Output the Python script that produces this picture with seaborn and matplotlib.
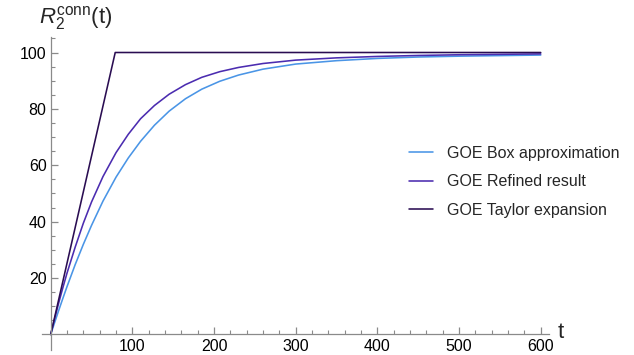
import matplotlib
matplotlib.use("Agg")
import matplotlib.pyplot as plt
from matplotlib.ticker import FixedLocator
import seaborn as sns
import pandas as pd

sns.set_theme(style="white")
plt.rcParams["font.family"] = ["Liberation Sans", "DejaVu Sans"]
plt.rcParams["mathtext.fontset"] = "custom"
plt.rcParams["mathtext.rm"] = "Liberation Sans"
plt.rcParams["mathtext.it"] = "Liberation Sans:italic"

# time grid shared by the two smooth curves
t_grid = [0, 5, 10, 15, 20, 30, 40, 50, 64, 80, 95, 110, 127, 145, 165, 185,
          207, 230, 260, 300, 350, 400, 450, 500, 550, 600]

# GOE Box approximation
box_v = [0, 4.4, 8.7, 12.9, 17, 24.8, 32, 38.7, 47.3, 55.8, 62.6, 68.5, 74.2, 79.2,
         83.6, 87, 89.8, 92, 94.1, 95.9, 97.1, 97.9, 98.4, 98.7, 98.9, 99.1]

# GOE Refined result
ref_v = [0, 5.8, 11.4, 16.7, 21.8, 31, 39.5, 47, 56, 64.5, 71, 76.5, 81.2, 85.2,
         88.6, 91.2, 93.2, 94.7, 96.1, 97.3, 98.1, 98.6, 98.95, 99.2, 99.35, 99.5]

# GOE Taylor expansion
tay_t = [0, 79, 600]
tay_v = [0, 100, 100]

names = ["GOE Box approximation", "GOE Refined result", "GOE Taylor expansion"]
colors = ["#4A95E6", "#4B2CB0", "#2A0D52"]
series = [(t_grid, box_v), (t_grid, ref_v), (tay_t, tay_v)]

fig = plt.figure(figsize=(6.34, 3.55), dpi=100)
ax = fig.add_axes([0.0658, 0.0141, 0.800, 0.8817])

for name, color, (t, v) in zip(names, colors, series):
    df = pd.DataFrame({"t": t, "R": v})
    sns.lineplot(data=df, x="t", y="R", ax=ax, color=color, linewidth=1.15,
                 label=name, sort=False, estimator=None)

ax.set_xlim(-11, 610)
ax.set_ylim(-5.5, 105.5)

# axes crossing at the origin
for side in ("top", "right"):
    ax.spines[side].set_visible(False)
for side in ("left", "bottom"):
    ax.spines[side].set_position(("data", 0))
    ax.spines[side].set_color("#8a8a8a")
    ax.spines[side].set_linewidth(0.9)

ax.xaxis.set_major_locator(FixedLocator([100, 200, 300, 400, 500, 600]))
ax.xaxis.set_minor_locator(FixedLocator([x for x in range(20, 601, 20) if x % 100]))
ax.yaxis.set_major_locator(FixedLocator([20, 40, 60, 80, 100]))
ax.yaxis.set_minor_locator(FixedLocator([y for y in range(5, 106, 5) if y % 20]))

ax.tick_params(axis="both", which="both", direction="in", color="#8a8a8a",
               labelsize=11.5, labelcolor="black", bottom=True, left=True)
ax.tick_params(axis="both", which="major", length=5, width=0.9, pad=3)
ax.tick_params(axis="both", which="minor", length=3, width=0.8)
ax.tick_params(axis="x", which="major", pad=3)

ax.set_xlabel("")
ax.set_ylabel("")
fig.text(0.879, 0.062, "t", fontsize=16, ha="left", va="center")
fig.text(0.062, 0.950, r"$R_2^{\mathrm{conn}}$(t)", fontsize=16, ha="left", va="center")

ax.legend(loc="center left", bbox_to_anchor=(0.696, 0.537), frameon=False, fontsize=11.5,
          handlelength=1.5, handletextpad=0.9, labelspacing=0.85)

ax.grid(False)
fig.savefig("out.png", dpi=100)
